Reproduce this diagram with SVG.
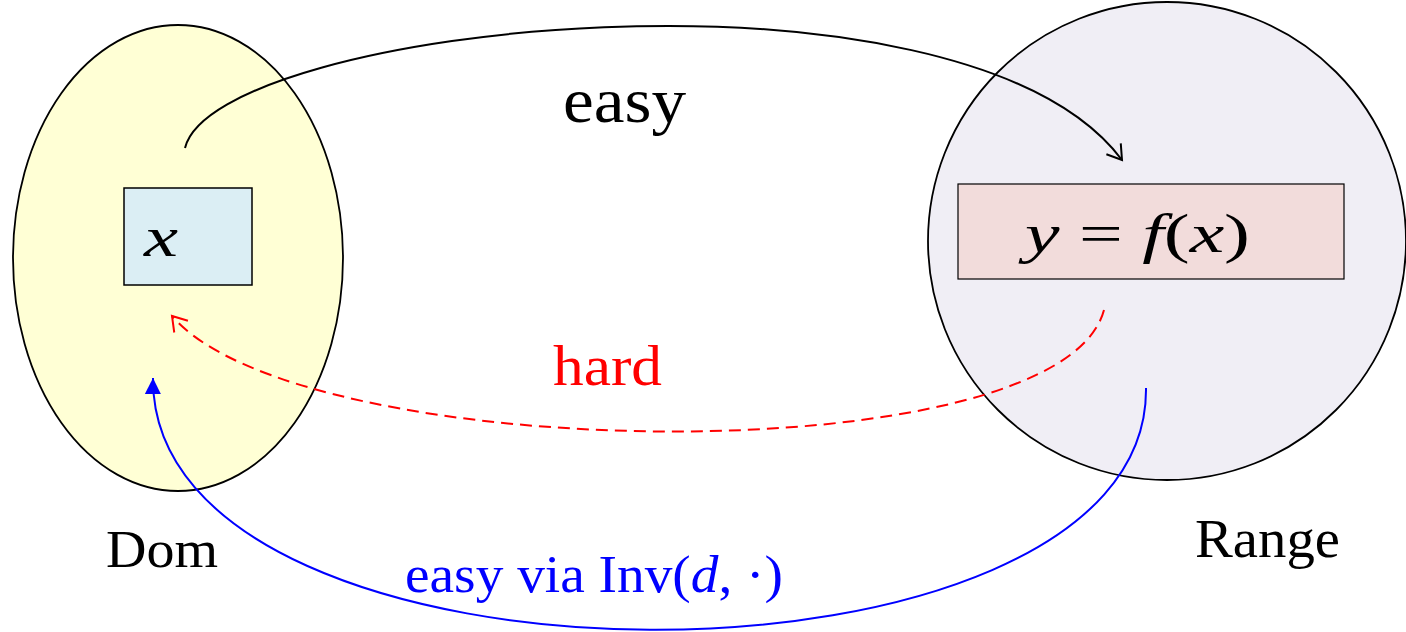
<svg xmlns="http://www.w3.org/2000/svg" width="1406" height="632" viewBox="0 0 1406 632">
<style>
.t{font-family:"Liberation Serif","Times New Roman",serif;}
.i{font-style:italic;}
.conn{fill:none;stroke-width:2;}
</style>
<defs>
<marker id="openBlack" markerUnits="userSpaceOnUse" markerWidth="30" markerHeight="30" refX="0" refY="0" viewBox="-20 -15 30 30" orient="auto" overflow="visible">
<path d="M-14,-9 L0,0 L-14,9" fill="none" stroke="#000" stroke-width="2"/>
</marker>
<marker id="openRed" markerUnits="userSpaceOnUse" markerWidth="30" markerHeight="30" refX="0" refY="0" viewBox="-20 -15 30 30" orient="auto" overflow="visible">
<path d="M-14,-9 L0,0 L-14,9" fill="none" stroke="#f00" stroke-width="2"/>
</marker>
<marker id="fillBlue" markerUnits="userSpaceOnUse" markerWidth="30" markerHeight="30" refX="0" refY="0" viewBox="-20 -15 30 30" orient="auto" overflow="visible">
<path d="M-16,-8 L0,0 L-16,8 Z" fill="#00f" stroke="none"/>
</marker>
</defs>
<rect width="1406" height="632" fill="#fff"/>
<g id="dom">
<ellipse cx="178" cy="258" rx="165" ry="233" fill="#ffffd5" stroke="#000" stroke-width="1.8"/>
<text class="t" x="106" y="567" font-size="52" textLength="112" lengthAdjust="spacingAndGlyphs">Dom</text>
</g>
<g id="range">
<circle cx="1167" cy="241" r="239" fill="#f0eef5" stroke="#000" stroke-width="1.8"/>
<text class="t" x="1195" y="557" font-size="54" textLength="145" lengthAdjust="spacingAndGlyphs">Range</text>
</g>
<g id="x">
<rect x="124" y="188" width="128" height="97" fill="#dbeef4" stroke="#000" stroke-width="1.5"/>
<text class="t i" x="144" y="256" font-size="56" textLength="34" lengthAdjust="spacingAndGlyphs">x</text>
</g>
<g id="y">
<rect x="958" y="184" width="386" height="95" fill="#f2dcdb" stroke="#000" stroke-width="1.2"/>
<text class="t" x="1025" y="252" font-size="54" textLength="225" lengthAdjust="spacingAndGlyphs"><tspan class="i">y</tspan> = <tspan class="i">f</tspan>(<tspan class="i">x</tspan>)</text>
</g>
<g id="connectors">
<path class="conn" d="M185,148 C215,25 960,-55 1122,160" stroke="#000" marker-end="url(#openBlack)"/>
<path class="conn" d="M1104,310 C1060,476 300,466 172,316" stroke="#f00" stroke-dasharray="12,7" marker-end="url(#openRed)"/>
<path class="conn" d="M1146,388 C1150,712 150,712 153,378" stroke="#00f" marker-end="url(#fillBlue)"/>
</g>
<g id="labels">
<text class="t" x="563" y="122" font-size="64" textLength="123" lengthAdjust="spacingAndGlyphs">easy</text>
<text class="t" x="553" y="385" font-size="58" fill="#f00" textLength="109" lengthAdjust="spacingAndGlyphs">hard</text>
<text class="t" x="405" y="592" font-size="52" fill="#00f" textLength="378" lengthAdjust="spacingAndGlyphs">easy via Inv(<tspan class="i">d</tspan>, ·)</text>
</g>
</svg>
